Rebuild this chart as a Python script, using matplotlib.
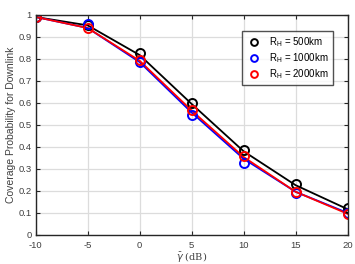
import matplotlib.pyplot as plt

# SNR 임계값 (dB)
snr = [-10, -5, 0, 5, 10, 15, 20]

# 해석 곡선
line_500 = [0.99, 0.952, 0.817, 0.595, 0.380, 0.226, 0.117]
line_1000 = [0.99, 0.940, 0.785, 0.556, 0.346, 0.196, 0.100]
line_2000 = [0.99, 0.940, 0.791, 0.565, 0.354, 0.196, 0.096]

# 시뮬레이션 점
sim_500 = [0.99, 0.955, 0.827, 0.598, 0.387, 0.230, 0.123]
sim_1000 = [0.99, 0.958, 0.785, 0.546, 0.328, 0.189, 0.098]
sim_2000 = [0.99, 0.941, 0.794, 0.567, 0.360, 0.194, 0.097]

labels = ['R$_\\mathregular{H}$ = 500km', 'R$_\\mathregular{H}$ = 1000km', 'R$_\\mathregular{H}$ = 2000km']
colors = ['black', 'blue', 'red']

plt.rcParams['font.family'] = ['Liberation Sans', 'DejaVu Sans']
plt.rcParams['mathtext.fontset'] = 'custom'
plt.rcParams['mathtext.rm'] = 'Liberation Sans'

fig = plt.figure(figsize=(3.55, 2.64), dpi=100)
ax = fig.add_axes([0.1006, 0.110, 0.8786, 0.834])

for ln, c in zip([line_500, line_1000, line_2000], colors):
    ax.plot(snr, ln, color=c, lw=1.3)
for sm, c, lb in zip([sim_500, sim_1000, sim_2000], colors, labels):
    ax.plot(snr, sm, 'o', color=c, mfc='none', ms=6.5, mew=1.4, label=lb)

ax.set_xlim(-10, 20)
ax.set_ylim(0, 1)
ax.set_xticks(snr)
ax.set_xticklabels(['-10', '-5', '0', '5', '10', '15', '20'])
ax.set_yticks([i / 10 for i in range(11)])
ax.set_yticklabels(['0', '0.1', '0.2', '0.3', '0.4', '0.5', '0.6', '0.7', '0.8', '0.9', '1'])
ax.grid(True, color='#dcdcdc', lw=0.9)
ax.set_axisbelow(True)
ax.tick_params(direction='in', length=3, labelsize=6.8, labelcolor='#404040', color='#262626',
               top=True, right=True)
ax.tick_params(axis='x', pad=4)
ax.tick_params(axis='y', pad=3)
for s in ax.spines.values():
    s.set_color('#262626')
    s.set_linewidth(1.0)

ax.set_xlabel(r'$\bar{\gamma}$ (dB)', fontsize=7, family='DejaVu Serif', color='#404040', labelpad=0)
ax.set_ylabel('Coverage Probability for Downlink', fontsize=7.5, color='#404040', labelpad=2)

leg = ax.legend(loc='upper right', bbox_to_anchor=(0.953, 0.926), fontsize=7, frameon=True,
                fancybox=False, edgecolor='#262626', handlelength=1.6, handletextpad=0.7,
                borderpad=0.45, labelspacing=0.2, markerscale=0.75, borderaxespad=0)
leg.get_frame().set_linewidth(1.0)

fig.savefig('out.png', dpi=100)
